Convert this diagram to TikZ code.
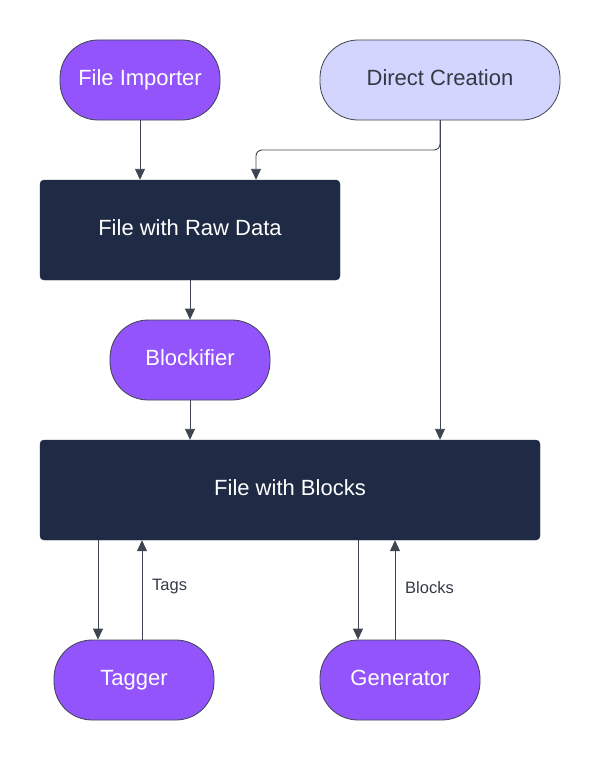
\documentclass[tikz,border=0pt]{standalone}
\usepackage{fontspec}
\setmainfont{Liberation Sans}
\usetikzlibrary{arrows.meta}
\definecolor{purp}{HTML}{9354FC}
\definecolor{navy}{HTML}{1F2A44}
\definecolor{lav}{HTML}{D4D5FE}
\definecolor{edge}{HTML}{3F4550}
\definecolor{txt}{HTML}{333A45}
\newcommand{\up}[1]{\raisebox{4pt}{#1}}
\tikzset{
  pill/.style={draw=edge, line width=0.8pt, rounded corners=38pt, minimum width=160pt, minimum height=80pt, inner sep=0pt, font=\fontsize{22}{26}\selectfont},
  purplepill/.style={pill, fill=purp, text=white},
  lavpill/.style={pill, fill=lav, text=txt},
  navybox/.style={draw=navy, fill=navy, rounded corners=4pt, minimum height=100pt, inner sep=0pt, text=white, font=\fontsize{22}{26}\selectfont},
  conn/.style={draw=edge, line width=0.9pt, -{Triangle[length=11pt,width=10pt]}},
  lbl/.style={text=txt, font=\fontsize{16.5}{20}\selectfont, inner sep=0pt}
}
\begin{document}
\begin{tikzpicture}[x=1pt,y=-1pt]
\useasboundingbox (0,0) rectangle (600,760);
\node[purplepill] (imp) at (140,80) {\up{File Importer}};
\node[lavpill, minimum width=240pt] (dc) at (440,80) {\up{Direct Creation}};
\node[navybox, minimum width=300pt] (raw) at (190,230) {\up{File with Raw Data}};
\node[purplepill] (blk) at (190,360) {\up{Blockifier}};
\node[navybox, minimum width=500pt] (fb) at (290,490) {\up{File with Blocks}};
\node[purplepill] (tag) at (134,680) {\up{Tagger}};
\node[purplepill] (gen) at (400,680) {\up{Generator}};
\coordinate (c1) at (440,150);
\coordinate (c2) at (256,150);
\draw[conn] (imp.south -| 140,0) -- (raw.north -| 140,0);
\draw[conn, rounded corners=6pt] (dc.south) -- (c1) -- (c2) -- (raw.north -| c2);
\draw[conn] (dc.south) -- (fb.north -| dc.south);
\draw[conn] (raw.south -| 190,0) -- (blk.north);
\draw[conn] (blk.south) -- (fb.north -| blk.south);
\draw[conn] (fb.south -| 98,0) -- (tag.north -| 98,0);
\draw[conn] (tag.north -| 142,0) -- (fb.south -| 142,0);
\draw[conn] (fb.south -| 358,0) -- (gen.north -| 358,0);
\draw[conn] (gen.north -| 395,0) -- (fb.south -| 395,0);
\node[lbl, anchor=west] (tl) at (152,587) {Tags};
\node[lbl, anchor=west] (bl) at (405,588) {Blocks};
\end{tikzpicture}
\end{document}
